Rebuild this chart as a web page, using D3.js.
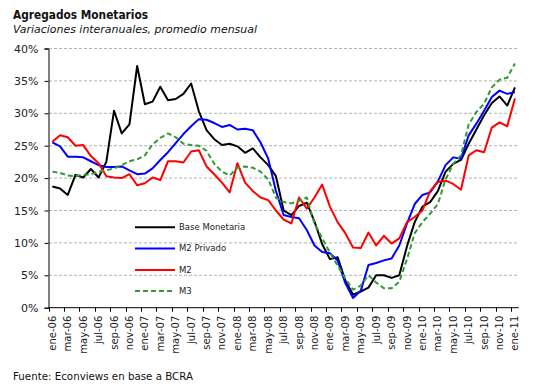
<!DOCTYPE html>
<html><head><meta charset="utf-8">
<script src="https://cdn.jsdelivr.net/npm/d3@7"></script>
<style>
html,body{margin:0;padding:0;background:#fff;}
svg{display:block;font-family:"DejaVu Sans",Verdana,sans-serif;}
</style></head>
<body>
<svg id="chart" width="533" height="391"></svg>
<script>
const monthNames = ["ene","feb","mar","abr","may","jun","jul","ago","sep","oct","nov","dic"];
const years = ["06","07","08","09","10","11"];
const categories = [];
years.forEach(y => monthNames.forEach(m => { if (categories.length < 61) categories.push(m + "-" + y); }));

const baseMonetaria = [18.7,18.4,17.4,20.5,20.1,21.4,20.1,22.5,30.4,26.9,
  28.3,37.3,31.4,31.8,34.1,32.0,32.2,33.0,34.6,30.3,
  27.4,26.0,25.1,25.3,24.9,23.9,24.6,23.2,22.0,20.3,
  15.0,14.3,15.7,16.2,13.3,9.8,7.5,7.8,4.2,2.0,
  2.5,3.1,5.0,5.0,4.6,5.0,9.5,13.2,15.6,16.3,
  18.0,21.0,22.2,22.8,25.3,27.5,29.7,31.6,32.6,31.2,34.0];
const m2Privado = [25.5,24.9,23.3,23.3,23.2,22.6,22.0,21.7,21.7,21.8,
  21.2,20.6,20.7,21.5,22.8,24.0,25.4,26.8,28.0,29.1,
  29.0,28.5,27.9,28.2,27.5,27.6,27.4,25.5,23.0,18.0,
  14.3,14.0,13.8,12.0,9.6,8.6,8.4,7.3,3.8,1.5,
  2.6,6.6,6.9,7.3,7.6,9.6,13.0,16.0,17.4,17.8,
  19.5,22.0,23.2,23.0,26.6,28.4,30.4,32.5,33.5,33.0,33.3];
const m2 = [25.6,26.6,26.3,25.0,25.1,23.4,22.3,20.3,20.1,20.0,
  20.6,18.9,19.2,20.1,19.7,22.6,22.6,22.4,24.1,24.3,
  21.8,20.6,19.3,17.8,22.3,19.3,18.0,17.0,16.6,15.0,
  13.6,13.0,17.0,15.3,17.0,19.0,15.6,13.2,11.5,9.3,
  9.2,11.6,9.6,11.1,9.9,10.7,13.2,14.0,15.0,18.0,
  19.4,19.6,19.1,18.2,23.5,24.3,24.0,27.8,28.6,28.0,32.3];
const m3 = [21.0,20.8,20.4,20.3,20.5,20.6,21.0,21.2,21.5,22.0,
  22.6,22.9,23.5,25.2,26.2,26.9,26.3,25.3,25.1,25.0,
  24.2,22.2,21.0,20.4,21.6,21.8,21.6,21.0,19.8,17.0,
  16.3,16.1,16.5,17.0,13.0,10.7,8.5,6.5,4.5,2.8,
  3.4,5.0,3.9,3.0,3.0,4.0,7.5,11.5,13.2,14.5,
  16.0,19.8,22.2,23.5,28.3,30.2,31.5,34.0,35.2,35.5,37.7];

const yTicks = [0,5,10,15,20,25,30,35,40];
const seriesNames = ["Base Monetaria","M2 Privado","M2","M3"];
const seriesColors = ["#000000","#0000ff","#ff0000","#339933"];
const seriesDash = [null,null,null,"5,3"];
const seriesData = [baseMonetaria, m2Privado, m2, m3];

const svg = d3.select("#chart");
const x = d3.scaleBand().domain(categories).range([48.5, 518.8]).padding(0);
const y = d3.scaleLinear().domain([0, 40]).range([307.7, 48.5]);
const bw = x.bandwidth();

// gridlines
svg.append("g").selectAll("line").data(yTicks.filter(d => d > 0)).join("line")
  .attr("x1", 49).attr("x2", 519)
  .attr("y1", d => y(d)).attr("y2", d => y(d))
  .attr("stroke", "#b3b3b3").attr("stroke-width", 1).attr("stroke-dasharray", "3,2");

// y axis
const yAxis = d3.axisLeft(y).tickValues(yTicks).tickFormat(d => d + "%").tickSize(4).tickPadding(6);
const gy = svg.append("g").attr("transform", "translate(48.5,0)").call(yAxis);
gy.select(".domain").attr("stroke", "#000");
gy.selectAll(".tick line").attr("stroke", "#000");
gy.selectAll("text").attr("font-size", "11px").attr("fill", "#222").attr("font-family", "DejaVu Sans, sans-serif");

// x axis
const gx = svg.append("g");
gx.append("line").attr("x1", 48.5).attr("x2", x.range()[1]).attr("y1", y(0)).attr("y2", y(0)).attr("stroke", "#000");
const tickCats = categories.filter((c, i) => i % 2 === 0);
gx.selectAll("line.tk").data(tickCats).join("line").attr("class", "tk")
  .attr("x1", d => Math.round(x(d)) + 0.5).attr("x2", d => Math.round(x(d)) + 0.5)
  .attr("y1", y(0)).attr("y2", y(0) + 4).attr("stroke", "#000");
gx.selectAll("text").data(tickCats).join("text")
  .attr("transform", d => `translate(${x(d) + bw / 2 + 3.5},${y(0) + 8}) rotate(-90)`)
  .attr("text-anchor", "end")
  .attr("font-size", "10px").attr("fill", "#222")
  .text(d => d);

// lines
const line = d3.line().x((d, i) => x(categories[i]) + bw / 2).y(d => y(d));
seriesData.forEach((data, k) => {
  svg.append("path").datum(data)
    .attr("fill", "none").attr("stroke", seriesColors[k]).attr("stroke-width", 2)
    .attr("stroke-linejoin", "round")
    .attr("stroke-dasharray", seriesDash[k])
    .attr("d", line);
});

// legend
const legY = [227.3, 248.5, 270, 291];
const leg = svg.append("g");
seriesNames.forEach((n, k) => {
  leg.append("line").attr("x1", 135).attr("x2", 175).attr("y1", legY[k]).attr("y2", legY[k])
    .attr("stroke", seriesColors[k]).attr("stroke-width", 2).attr("stroke-dasharray", seriesDash[k]);
  leg.append("text").attr("x", 179).attr("y", legY[k]).attr("dy", "0.35em")
    .attr("font-size", "8.5px").attr("fill", "#222").text(n);
});

// titles
svg.append("text").attr("x", 13).attr("y", 19).attr("font-weight", "bold").attr("font-size", "12px")
  .attr("fill", "#111").attr("textLength", 135).attr("lengthAdjust", "spacingAndGlyphs").text("Agregados Monetarios");
svg.append("text").attr("x", 13).attr("y", 33).attr("font-style", "italic").attr("font-size", "11px")
  .attr("fill", "#111").attr("textLength", 244).attr("lengthAdjust", "spacingAndGlyphs").text("Variaciones interanuales, promedio mensual");
svg.append("text").attr("x", 13).attr("y", 380).attr("font-size", "11px")
  .attr("fill", "#111").attr("textLength", 180).attr("lengthAdjust", "spacingAndGlyphs").text("Fuente: Econviews en base a BCRA");
</script>
</body></html>
